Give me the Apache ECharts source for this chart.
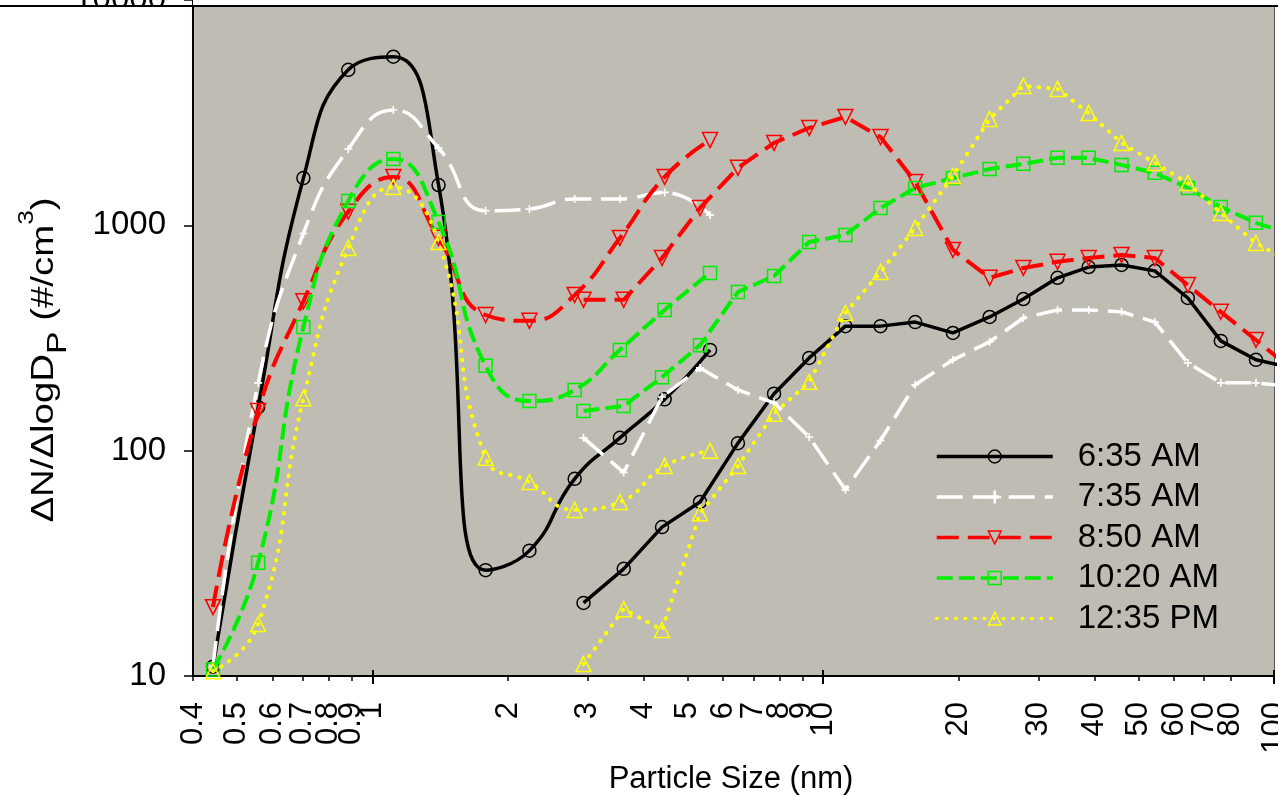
<!DOCTYPE html>
<html><head><meta charset="utf-8">
<script src="https://cdn.jsdelivr.net/npm/echarts@6.0.0/dist/echarts.min.js"></script>
<style>html,body{margin:0;padding:0;background:#fff}#c{width:1278px;height:796px}</style>
</head><body><div id="c"></div><script>
// particle sizes (nm) for the two instrument segments
const sizesA = [0.443, 0.558, 0.703, 0.884, 1.113, 1.402, 1.783, 2.23, 2.81, 3.54, 4.45, 5.61];
const sizesB = [2.94, 3.61, 4.39, 5.33, 6.47, 7.78, 9.31, 11.2, 13.4, 16.0, 19.4, 23.4, 27.8, 33.1, 38.8, 45.9, 54.4, 64.4, 76.2, 91.2, 108];
// dN/dlogDp values
const t0635A = [11, 156, 1620, 4900, 5600, 1510, 29.5, 36, 75, 114, 169, 280];
const t0635B = [21.1, 29.9, 45.8, 59.2, 108, 179, 258, 357, 357, 372, 333, 392, 471, 585, 653, 667, 628, 476, 307, 253, 235];
const t0735A = [11, 200, 920, 2180, 3250, 2200, 1160, 1180, 1310, 1310, 1400, 1110];
const t0735B = [114, 80, 173, 233, 186, 163, 115, 67, 111, 196, 253, 304, 388, 421, 421, 413, 372, 245, 200, 200, 193];
const t0850A = [20.2, 150, 460, 1150, 1640, 880, 400, 377, 491, 879, 1640, 2390];
const t0850B = [467, 467, 716, 1194, 1799, 2322, 2705, 3027, 2466, 1559, 778, 585, 647, 689, 716, 739, 716, 543, 413, 310, 235];
const t1020A = [10.7, 31.8, 354, 1283, 1972, 1035, 238, 166, 186, 280, 421, 615];
const t1020B = [150, 158, 212, 294, 506, 596, 843, 906, 1194, 1466, 1622, 1778, 1874, 1993, 1993, 1854, 1710, 1466, 1207, 1026, 920];
const t1235A = [10.5, 17, 171, 794, 1479, 843, 93, 72.6, 54.6, 59.2, 85.5, 100];
const t1235B = [11.3, 19.8, 16.0, 52.8, 85.5, 146, 202, 408, 621, 973, 1656, 2965, 4156, 4030, 3155, 2322, 1892, 1542, 1135, 835, 689];
const seriesNames = ['6:35 AM', '7:35 AM', '8:50 AM', '10:20 AM', '12:35 PM'];
const xTickValues = [0.4,0.5,0.6,0.7,0.8,0.9,1,2,3,4,5,6,7,8,9,10,20,30,40,50,60,70,80,90,100];
const xMajorTicks = [1, 10, 100];
const xTitle = 'Particle Size (nm)';

const FONT = "'Liberation Sans', Arial, sans-serif";
const CLEAR = 'rgba(0,0,0,0)';
const styles = [
  {symbol:'circle', size:13, rotate:0, line:{color:'#000000', width:3.5, type:'solid'}, item:{color:CLEAR, borderColor:'#000000', borderWidth:1.5}},
  {symbol:'path://M-1,-5H1V5H-1Z M-5,-1H5V1H-5Z', size:8, rotate:0, line:{color:'#ffffff', width:3.5, type:[26,10]}, item:{color:'#ffffff', borderWidth:0}},
  {symbol:'triangle', size:15, rotate:180, line:{color:'#ff0000', width:4, type:[22,9]}, item:{color:CLEAR, borderColor:'#ff0000', borderWidth:1.5}},
  {symbol:'rect', size:13, rotate:0, line:{color:'#00ee00', width:4, type:[16,6]}, item:{color:CLEAR, borderColor:'#00ee00', borderWidth:1.5}},
  {symbol:'triangle', size:15, rotate:0, line:{color:'#ffff00', width:4, type:[0.5,9], cap:'round'}, item:{color:CLEAR, borderColor:'#ffff00', borderWidth:1.5}}
];
const segA = [t0635A, t0735A, t0850A, t1020A, t1235A];
const segB = [t0635B, t0735B, t0850B, t1020B, t1235B];

function mk(i, sizes, vals, smooth) {
  const st = styles[i];
  return {
    type:'line', name: seriesNames[i], xAxisIndex:0, yAxisIndex:0,
    smooth: smooth ? 0.5 : false,
    data: sizes.map((s, k) => [s, vals[k]]),
    symbol: st.symbol, symbolSize: st.size, symbolRotate: st.rotate,
    lineStyle: st.line, itemStyle: st.item,
    emphasis: {disabled:true}, z: 2 + i
  };
}
const series = [];
for (let i = 0; i < 5; i++) {
  series.push(mk(i, sizesA, segA[i], true));
  series.push(mk(i, sizesB, segB[i], false));
}

const gridBox = {left:193, right:4, top:0, bottom:120, outerBoundsMode:'none', containLabel:false};
const chart = echarts.init(document.getElementById('c'), null, {renderer:'canvas'});
chart.setOption({
  animation:false,
  grid:[
    Object.assign({show:true, backgroundColor:'#bfbdb3', borderWidth:0}, gridBox),
    Object.assign({show:false}, gridBox),
    Object.assign({show:false}, gridBox)
  ],
  xAxis:[
    {type:'log', logBase:10, min:0.4, max:100, gridIndex:0, position:'bottom',
     axisLine:{show:true, onZero:false, lineStyle:{color:'#000', width:2}},
     axisTick:{show:true, customValues:xTickValues, length:5, lineStyle:{color:'#000', width:1.5}},
     minorTick:{show:false}, splitLine:{show:false},
     axisLabel:{customValues:xTickValues, rotate:90, margin:26, fontSize:31, color:'#000', fontFamily:FONT,
       showMinLabel:true, showMaxLabel:true, hideOverlap:false,
       formatter:(v)=>String(+(+v).toPrecision(6))}},
    {type:'log', logBase:10, min:0.4, max:100, gridIndex:1, position:'bottom',
     axisLine:{show:false}, axisLabel:{show:false}, splitLine:{show:false},
     axisTick:{show:true, customValues:xMajorTicks, length:8, lineStyle:{color:'#000', width:2}}},
    {type:'log', logBase:10, min:0.4, max:100, gridIndex:2, position:'bottom',
     axisLine:{show:false}, axisLabel:{show:false}, splitLine:{show:false},
     axisTick:{show:true, inside:true, customValues:xMajorTicks, length:6, lineStyle:{color:'#000', width:2}}}
  ],
  yAxis:[
    {type:'log', logBase:10, min:10, max:10000, gridIndex:0, position:'left',
     axisLine:{show:true, onZero:false, lineStyle:{color:'#000', width:2}},
     axisTick:{show:true, length:9, lineStyle:{color:'#000', width:1.5}},
     minorTick:{show:false}, splitLine:{show:false},
     axisLabel:{margin:27, fontSize:33, color:'#000', fontFamily:FONT, showMaxLabel:true,
       formatter:(v)=>String(Math.round(v))}},
    {type:'log', logBase:10, min:10, max:10000, gridIndex:0, position:'right',
     axisLine:{show:true, lineStyle:{color:'#555', width:1}}, axisTick:{show:false}, axisLabel:{show:false}, splitLine:{show:false}},
    {type:'value', gridIndex:1, show:false},
    {type:'value', gridIndex:2, show:false}
  ],
  legend:{
    data: seriesNames, orient:'vertical', left:930, top:435,
    itemWidth:116, itemHeight:16, itemGap:7.5,
    lineStyle:{width:3.5}, itemStyle:{borderWidth:1.5},
    textStyle:{fontSize:33, lineHeight:33, color:'#000', fontFamily:FONT, padding:[0,0,0,20]},
    selectedMode:false
  },
  graphic:[
    {type:'rect', z:100, shape:{x:193, y:0, width:1085, height:5}, style:{fill:'#ffffff'}},
    {type:'rect', z:100, shape:{x:0, y:7, width:190, height:14}, style:{fill:'#ffffff'}},
    {type:'line', z:101, shape:{x1:0, y1:6, x2:1278, y2:6}, style:{stroke:'#000', lineWidth:2}},
    {type:'text', z:100, x:44, y:360, rotation:Math.PI/2, scaleX:1.2,
     style:{text:'{m|ΔN/ΔlogD}{s|P}{m| (#/cm}{p|3}{m|)}', align:'center', verticalAlign:'middle',
       rich:{
         m:{fontSize:32, lineHeight:56, fontFamily:FONT, fill:'#000', verticalAlign:'middle'},
         s:{fontSize:28, lineHeight:46, fontFamily:FONT, fill:'#000', verticalAlign:'bottom'},
         p:{fontSize:22, lineHeight:18, fontFamily:FONT, fill:'#000', verticalAlign:'top'}
       }}},
    {type:'text', z:100, x:731, y:779, style:{text:xTitle, fontSize:31, fontFamily:FONT, fill:'#000', align:'center', verticalAlign:'middle'}}
  ],
  series: series
});
</script></body></html>
